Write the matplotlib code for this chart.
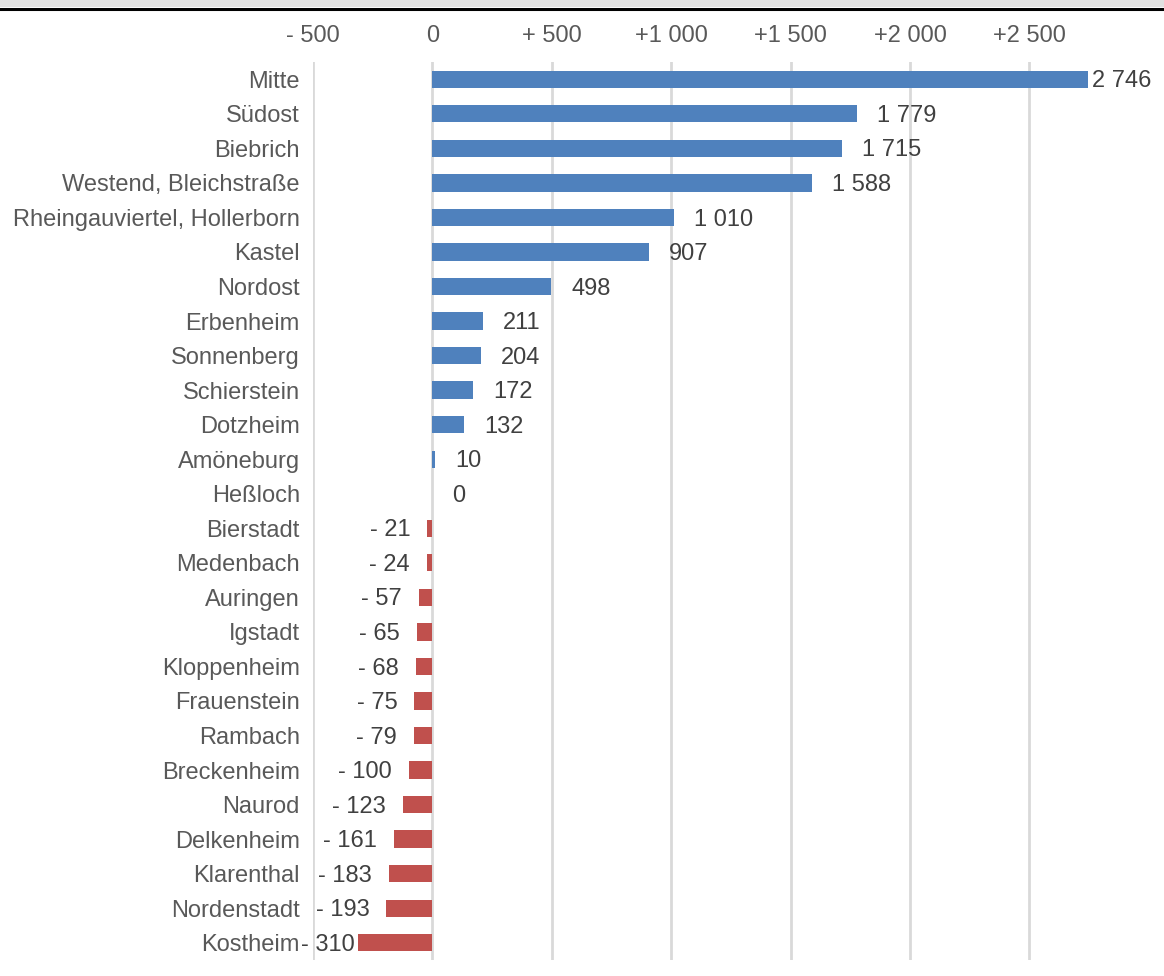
import matplotlib.pyplot as plt
from matplotlib.patches import Rectangle
from matplotlib.lines import Line2D

districts = ["Mitte", "Südost", "Biebrich", "Westend, Bleichstraße",
             "Rheingauviertel, Hollerborn", "Kastel", "Nordost", "Erbenheim",
             "Sonnenberg", "Schierstein", "Dotzheim", "Amöneburg", "Heßloch",
             "Bierstadt", "Medenbach", "Auringen", "Igstadt", "Kloppenheim",
             "Frauenstein", "Rambach", "Breckenheim", "Naurod", "Delkenheim",
             "Klarenthal", "Nordenstadt", "Kostheim"]
changes = [2746, 1779, 1715, 1588, 1010, 907, 498, 211, 204, 172, 132, 10, 0,
           -21, -24, -57, -65, -68, -75, -79, -100, -123, -161, -183, -193, -310]
tick_values = [-500, 0, 500, 1000, 1500, 2000, 2500]
tick_labels = ["- 500", "0", "+ 500", "+1 000", "+1 500", "+2 000", "+2 500"]

plt.rcParams['font.family'] = ['Liberation Sans', 'DejaVu Sans']
FS = 17

W, H = 1164, 976
fig = plt.figure(figsize=(W / 100, H / 100), dpi=100)

# grey band and black rule at the very top
fig.patches.append(Rectangle((0, 1 - 7 / H), 1, 7 / H, transform=fig.transFigure,
                             facecolor='#E0E0E0', edgecolor='none'))
fig.lines.append(Line2D([0, 1], [1 - 8.5 / H, 1 - 8.5 / H], transform=fig.transFigure,
                        color='black', linewidth=2.2))

ax = fig.add_axes([313 / W, 1 - 960 / H, (W - 313) / W, (960 - 62) / H])

n = len(districts)
ypos = list(range(n))
colors = ['#4F81BD' if v >= 0 else '#C0504D' for v in changes]
ax.barh(ypos, changes, height=0.5, color=colors, zorder=3)

ax.set_xlim(-500, -500 + (W - 313) / (119.4 / 500))
ax.set_ylim(n - 0.5, -0.5)

ax.set_xticks(tick_values)
ax.set_xticklabels(tick_labels)
ax.xaxis.tick_top()
ax.tick_params(axis='x', length=0, pad=11, labelsize=FS, labelcolor='#595959')
ax.set_yticks(ypos)
ax.set_yticklabels(districts)
ax.tick_params(axis='y', length=0, pad=9.5, labelsize=FS, labelcolor='#595959')
ax.grid(axis='x', color='#D9D9D9', linewidth=2, zorder=0)
for s in ax.spines.values():
    s.set_visible(False)


def fmt(v):
    s = f"{abs(v):,}".replace(",", " ")
    return "- " + s if v < 0 else s


for i, v in enumerate(changes):
    if v >= 0:
        off = 4 if i == 0 else 20
        ax.annotate(fmt(v), (v, i), xytext=(off * 0.72, -1.5), textcoords='offset points',
                    ha='left', va='center', fontsize=FS, color='#404040')
    else:
        off = 4 if i == n - 1 else 17
        ax.annotate(fmt(v), (v, i), xytext=(-off * 0.72, -1.5), textcoords='offset points',
                    ha='right', va='center', fontsize=FS, color='#404040')

fig.savefig('out.png', dpi=100)
